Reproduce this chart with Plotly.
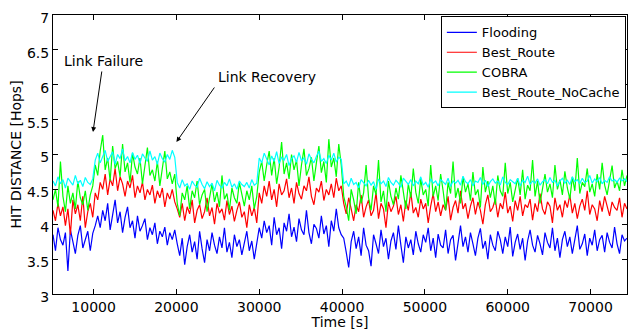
import plotly.graph_objects as go

# time grid (s)
time_s = list(range(5100, 74401, 300))

flooding = [
    # 5100-9900
    3.85, 3.62, 3.95, 3.78, 3.70, 3.88, 3.33, 3.92, 3.75, 3.58, 3.84, 3.98, 3.66, 3.80, 3.90, 3.62, 3.87,
    # 10200-19800
    3.98, 4.12, 3.95, 4.20, 4.05, 4.30, 3.92, 4.15, 4.35, 4.02, 4.18, 3.88, 4.10, 4.25, 3.95, 4.05, 3.80,
    4.12, 3.90, 3.98, 4.08, 3.78, 3.95, 3.85, 4.02, 3.72, 3.90, 3.82, 3.96, 3.70, 3.88, 3.78, 3.92,
    # 20100-29700
    3.72, 3.55, 3.80, 3.42, 3.68, 3.85, 3.60, 3.75, 3.50, 3.90, 3.65, 3.45, 3.78, 3.62, 3.88, 3.70, 3.58,
    3.82, 3.66, 3.95, 3.60, 3.74, 3.52, 3.85, 3.68, 3.78, 3.56, 3.72, 3.90, 3.62, 3.76, 3.50, 3.70,
    # 30000-39900
    3.95, 3.80, 4.05, 3.88, 3.98, 3.70, 4.10, 3.85, 3.95, 3.65, 4.02, 3.90, 4.15, 3.82, 3.96, 3.75, 4.08,
    3.92, 3.85, 4.20, 3.88, 3.72, 4.00, 3.94, 3.80, 4.12, 3.86, 3.98, 3.68, 4.05, 3.90, 4.22, 3.95, 3.85,
    # 40200-74400
    3.80, 3.60, 3.38, 3.75, 3.90, 3.65, 3.82, 3.55, 3.95, 3.70,
    3.62, 3.40, 3.85, 3.72, 3.58, 3.92, 3.68, 3.80, 3.50, 3.76,
    3.88, 3.64, 3.98, 3.70, 3.45, 3.82, 3.66, 3.78, 3.56, 3.90,
    3.72, 3.60, 3.85, 3.74, 3.95, 3.62, 3.80, 3.52, 3.86, 3.70,
    3.66, 3.92, 3.58, 3.78, 3.84, 3.48, 3.75, 3.98, 3.68, 3.82,
    3.60, 3.88, 3.72, 3.55, 3.80, 3.94, 3.65, 3.76, 3.50, 3.85,
    3.70, 3.62, 3.90, 3.78, 3.58, 3.82, 3.68, 3.96, 3.54, 3.74,
    3.86, 3.64, 3.80, 3.48, 3.76, 3.92, 3.70, 3.60, 3.84, 3.72,
    3.56, 3.88, 3.74, 3.66, 3.95, 3.62, 3.80, 3.52, 3.78, 3.90,
    3.68, 3.82, 3.58, 3.76, 3.98, 3.64, 3.72, 3.86, 3.55, 3.80,
    3.70, 3.92, 3.62, 3.78, 3.84, 3.60, 3.88, 3.74, 3.66, 3.96,
    3.72, 3.58, 3.85, 3.76, 3.80,
]

best_route = [
    4.20, 4.05, 4.30, 4.12, 4.25, 3.98, 4.22, 3.85, 4.35, 4.15, 4.28, 4.05, 4.40, 3.95, 4.18, 4.30, 4.10,
    4.45, 4.35, 4.60, 4.50, 4.72, 4.42, 4.65, 4.55, 4.80, 4.48, 4.68, 4.58, 4.40, 4.62, 4.52, 4.70, 4.38,
    4.55, 4.45, 4.60, 4.35, 4.50, 4.42, 4.56, 4.30, 4.48, 4.38, 4.52, 4.25, 4.45, 4.36, 4.50, 4.32,
    4.22, 4.10, 4.30, 4.05, 4.25, 4.15, 4.35, 4.02, 4.20, 4.28, 4.08, 4.18, 4.38, 4.12, 4.24, 4.00, 4.30,
    4.16, 4.22, 4.06, 4.34, 4.14, 4.26, 4.04, 4.20, 4.32, 4.10, 4.18, 3.95, 4.28, 4.12, 4.24, 4.02,
    4.45, 4.30, 4.55, 4.40, 4.62, 4.35, 4.50, 4.25, 4.58, 4.42, 4.48, 4.65, 4.38, 4.52, 4.30, 4.60, 4.44,
    4.36, 4.55, 4.48, 4.68, 4.40, 4.28, 4.52, 4.46, 4.62, 4.34, 4.50, 4.42, 4.58, 4.38, 4.66, 4.48, 4.55,
    4.30, 4.15, 4.38, 4.22, 4.05, 4.28, 4.18, 4.42, 4.10, 4.25,
    4.35, 4.12, 4.20, 4.45, 4.08, 4.30, 4.22, 3.95, 4.32, 4.18,
    4.26, 4.40, 4.14, 4.28, 4.04, 4.34, 4.20, 4.46, 4.16, 4.24,
    4.10, 4.36, 4.22, 4.30, 4.02, 4.26, 4.44, 4.18, 4.32, 4.12,
    4.28, 4.20, 4.40, 4.06, 4.24, 4.34, 4.16, 4.48, 4.22, 4.30,
    4.08, 4.26, 4.38, 4.14, 4.32, 4.20, 4.00, 4.28, 4.42, 4.18,
    4.24, 4.36, 4.10, 4.30, 4.22, 4.46, 4.16, 4.26, 4.04, 4.34,
    4.20, 4.40, 4.12, 4.28, 4.24, 4.36, 4.06, 4.30, 4.18, 4.44,
    4.22, 4.14, 4.32, 4.26, 4.02, 4.38, 4.20, 4.28, 4.10, 4.34,
    4.24, 4.42, 4.16, 4.30, 4.08, 4.26, 4.36, 4.20, 4.48, 4.14,
    4.28, 4.22, 4.05, 4.34, 4.18, 4.40, 4.26, 4.12, 4.32, 4.24,
    4.20, 4.38, 4.10, 4.30, 4.22,
]

cobra = [
    4.35, 4.50, 4.25, 4.90, 4.40, 4.18, 4.55, 4.30, 4.45, 4.22, 4.62, 4.38, 4.28, 4.48, 4.20, 4.42, 4.55,
    4.85, 4.70, 5.05, 5.28, 4.78, 4.95, 4.62, 5.12, 4.80, 4.90, 4.68, 5.15, 4.75, 4.88, 4.60, 5.02, 4.82,
    4.72, 4.95, 4.58, 4.85, 5.10, 4.70, 4.78, 4.62, 4.90, 4.55, 4.80, 5.05, 4.65, 4.75, 4.58, 4.72,
    4.30, 4.12, 4.45, 4.35, 4.55, 4.22, 4.48, 4.38, 4.62, 4.28, 4.42, 4.50, 4.18, 4.40, 4.58, 4.32, 4.46,
    4.25, 4.70, 4.36, 4.44, 4.20, 4.52, 4.38, 4.30, 4.60, 4.42, 4.26, 4.48, 4.35, 4.55, 4.22, 4.40,
    4.75, 4.90, 4.62, 4.85, 5.05, 4.70, 4.95, 4.58, 4.82, 5.18, 4.72, 4.88, 4.65, 5.00, 4.78, 4.92, 4.55,
    4.85, 5.08, 4.70, 4.80, 4.96, 4.62, 4.88, 5.12, 4.74, 4.90, 4.60, 5.22, 4.82, 4.95, 4.68, 5.15, 4.85,
    4.40, 4.25, 4.05, 4.50, 4.35, 4.15, 4.60, 4.30, 4.45, 4.85,
    4.38, 4.20, 4.55, 4.42, 4.92, 4.32, 4.48, 4.18, 4.62, 4.40,
    4.28, 4.52, 4.36, 4.70, 4.44, 4.22, 4.58, 4.38, 4.80, 4.46,
    4.30, 4.65, 4.42, 4.50, 4.26, 4.85, 4.40, 4.55, 4.34, 4.72,
    4.48, 4.20, 4.60, 4.44, 4.90, 4.38, 4.52, 4.30, 4.68, 4.46,
    4.58, 4.34, 4.75, 4.42, 4.50, 4.24, 4.82, 4.46, 4.62, 4.38,
    4.55, 4.28, 4.70, 4.48, 4.40, 4.88, 4.44, 4.60, 4.32, 4.52,
    4.66, 4.42, 4.78, 4.36, 4.56, 4.48, 4.92, 4.40, 4.62, 4.30,
    4.54, 4.72, 4.46, 4.58, 4.38, 4.85, 4.50, 4.64, 4.42, 4.76,
    4.52, 4.36, 4.68, 4.48, 4.95, 4.44, 4.60, 4.54, 4.80, 4.46,
    4.58, 4.40, 4.72, 4.50, 4.88, 4.56, 4.42, 4.66, 4.84, 4.52,
    4.62, 4.48, 4.78, 4.55, 4.70,
]

best_route_nocache = [
    4.62, 4.55, 4.68, 4.58, 4.64, 4.52, 4.66, 4.60, 4.56, 4.70, 4.58, 4.63, 4.54, 4.67, 4.60, 4.57, 4.65,
    4.92, 5.02, 4.88, 4.98, 5.06, 4.90, 4.96, 5.04, 4.86, 5.00, 4.94, 5.08, 4.91, 4.97, 4.88, 5.03, 4.93,
    4.99, 4.87, 5.01, 4.95, 4.90, 5.05, 4.92, 4.97, 4.86, 5.02, 4.94, 4.89, 5.00, 4.93, 5.06, 4.96,
    4.60, 4.52, 4.64, 4.55, 4.58, 4.50, 4.62, 4.56, 4.53, 4.66, 4.57, 4.51, 4.61, 4.54, 4.59, 4.48, 4.63,
    4.56, 4.52, 4.60, 4.55, 4.65, 4.53, 4.58, 4.50, 4.62, 4.57, 4.54, 4.60, 4.52, 4.64, 4.56, 4.59,
    4.95, 4.88, 5.02, 4.92, 4.85, 4.98, 4.90, 5.04, 4.87, 4.96, 4.92, 5.00, 4.84, 4.94, 4.98, 4.89, 5.03,
    4.91, 4.95, 4.86, 5.01, 4.93, 4.88, 4.97, 5.05, 4.90, 4.94, 4.87, 4.99, 4.92, 5.02, 4.89, 4.96, 4.93,
    4.58, 4.62, 4.54, 4.66, 4.57, 4.60, 4.52, 4.64, 4.59, 4.55,
    4.63, 4.56, 4.61, 4.50, 4.65, 4.58, 4.62, 4.54, 4.67, 4.60,
    4.56, 4.63, 4.59, 4.53, 4.66, 4.61, 4.57, 4.64, 4.55, 4.62,
    4.58, 4.68, 4.56, 4.60, 4.53, 4.65, 4.59, 4.62, 4.55, 4.64,
    4.60, 4.57, 4.66, 4.54, 4.62, 4.59, 4.63, 4.56, 4.69, 4.61,
    4.58, 4.64, 4.55, 4.62, 4.60, 4.67, 4.57, 4.63, 4.54, 4.61,
    4.65, 4.59, 4.62, 4.56, 4.68, 4.60, 4.57, 4.64, 4.61, 4.58,
    4.66, 4.55, 4.63, 4.60, 4.69, 4.57, 4.62, 4.59, 4.65, 4.56,
    4.61, 4.64, 4.58, 4.67, 4.60, 4.63, 4.55, 4.62, 4.66, 4.59,
    4.63, 4.57, 4.68, 4.61, 4.64, 4.58, 4.66, 4.60, 4.62, 4.70,
    4.59, 4.65, 4.61, 4.67, 4.58, 4.63, 4.60, 4.68, 4.62, 4.64,
    4.60, 4.66, 4.62, 4.65, 4.61,
]

series_names = ["Flooding", "Best_Route", "COBRA", "Best_Route_NoCache"]
series_values = [flooding, best_route, cobra, best_route_nocache]
series_colors = ["#0000FF", "#FF0000", "#00FF00", "#00FFFF"]

x_ticks = [10000, 20000, 30000, 40000, 50000, 60000, 70000]

FONT = "DejaVu Sans"

fig = go.Figure()
for name, vals, col in zip(series_names, series_values, series_colors):
    fig.add_trace(go.Scatter(x=time_s, y=vals, mode="lines", name=name,
                             line=dict(color=col, width=1.2)))

axis_common = dict(showline=True, linecolor="black", linewidth=1, mirror="ticks",
                   ticks="inside", ticklen=5, tickcolor="black", showgrid=False,
                   zeroline=False, automargin=False, ticklabeloverflow="allow",
                   tickfont=dict(family=FONT, size=14, color="black"))

fig.update_xaxes(range=[5100, 74400], tickvals=x_ticks, ticktext=[str(v) for v in x_ticks],
                 title=dict(text="Time [s]", font=dict(family=FONT, size=14, color="black"), standoff=2),
                 **axis_common)
fig.update_yaxes(range=[3, 7], dtick=0.5, tick0=3, ticklabelshift=3,
                 title=dict(text="HIT DISTANCE [Hops]", font=dict(family=FONT, size=14, color="black"), standoff=6),
                 **axis_common)

# annotations: labels and arrows
fig.add_annotation(x=11136, y=6.34, text="Link Failure", showarrow=False,
                   font=dict(family=FONT, size=14, color="black"))
fig.add_annotation(x=30936, y=6.111, text="Link Recovery", showarrow=False,
                   font=dict(family=FONT, size=14, color="black"))
fig.add_annotation(x=9929, y=5.323, ax=9, ay=-62, text="", showarrow=True,
                   arrowhead=2, arrowsize=1, arrowwidth=1, arrowcolor="black")
fig.add_annotation(x=20000, y=5.179, ax=39, ay=-56, text="", showarrow=True,
                   arrowhead=2, arrowsize=1, arrowwidth=1, arrowcolor="black")

# page body adds an 8px offset and the visible width ends near x=629,
# so the plot area is kept within the visible window
fig.update_layout(
    width=629, height=322,
    margin=dict(l=45, r=10, t=7, b=36),
    paper_bgcolor="white", plot_bgcolor="white",
    font=dict(family=FONT, size=14, color="black"),
    legend=dict(x=0.998, y=0.995, xanchor="right", yanchor="top",
                bordercolor="black", borderwidth=1, bgcolor="white",
                font=dict(family=FONT, size=13, color="black"),
                tracegroupgap=0, itemwidth=30),
    showlegend=True,
)

fig.write_html("out.html")
